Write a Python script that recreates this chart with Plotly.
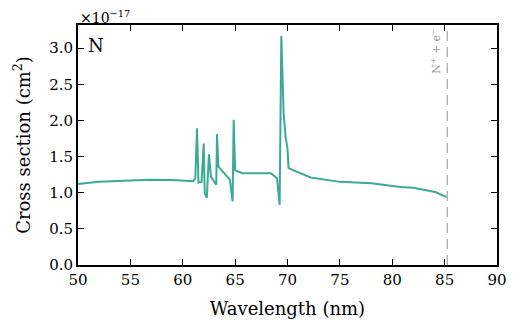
import plotly.graph_objects as go

wavelength = [50.0, 52.0, 55.0, 57.0, 59.0, 60.5, 61.0, 61.2, 61.36, 61.5, 61.8, 62.0, 62.1, 62.3,
              62.5, 62.7, 63.2, 63.27, 63.4, 64.5, 64.76, 64.86, 65.0, 65.7, 68.4, 69.0, 69.25,
              69.41, 69.63, 69.82, 70.0, 70.1, 72.2, 75.0, 78.0, 80.8, 82.0, 84.1, 85.2]
sigma = [1.12, 1.15, 1.17, 1.18, 1.175, 1.16, 1.16, 1.2, 1.89, 1.14, 1.15, 1.68, 0.99, 0.93,
         1.53, 1.22, 1.11, 1.81, 1.36, 1.18, 0.88, 2.01, 1.31, 1.27, 1.27, 1.20, 0.83,
         3.17, 2.1, 1.77, 1.61, 1.34, 1.21, 1.15, 1.13, 1.08, 1.07, 1.01, 0.94]
threshold = 85.25
x_ticks = [50, 55, 60, 65, 70, 75, 80, 85, 90]
y_ticks = [0.0, 0.5, 1.0, 1.5, 2.0, 2.5, 3.0]

FONT = "DejaVu Serif"

fig = go.Figure()
fig.add_trace(go.Scatter(x=wavelength, y=sigma, mode="lines",
                         line=dict(color="#3aaa94", width=2), showlegend=False))
fig.add_trace(go.Scatter(x=[threshold, threshold], y=[0, 3.32], mode="lines",
                         line=dict(color="#aaaaaa", width=1.3, dash="10px,6px"), showlegend=False))

axis_common = dict(showgrid=False, zeroline=False, showline=True, mirror="ticks",
                   linecolor="black", linewidth=2, ticks="inside", ticklen=6,
                   tickwidth=1.2, tickcolor="black", automargin=False,
                   tickfont=dict(family=FONT, size=15, color="black"))

fig.update_layout(
    width=525, height=324,
    margin=dict(l=78, r=28, t=25, b=59),
    paper_bgcolor="white", plot_bgcolor="white",
    xaxis=dict(range=[50, 90], tickvals=x_ticks, ticktext=[str(v) for v in x_ticks],
               title=dict(text="Wavelength (nm)", font=dict(family=FONT, size=18, color="black"),
                          standoff=14),
               **axis_common),
    yaxis=dict(range=[0, 3.32], tickvals=y_ticks, ticktext=[f"{v:.1f}" for v in y_ticks],
               title=dict(text="Cross section (cm<sup>2</sup>)",
                          font=dict(family=FONT, size=18, color="black"), standoff=14),
               **axis_common),
)

fig.add_annotation(x=0, y=1, xref="paper", yref="paper", xanchor="left", yanchor="bottom",
                   text="×10<sup>−17</sup>", showarrow=False, yshift=-3,
                   font=dict(family=FONT, size=14, color="black"))
fig.add_annotation(x=0.02, y=0.965, xref="paper", yref="paper", xanchor="left", yanchor="top",
                   text="N", showarrow=False,
                   font=dict(family=FONT, size=18, color="black"))
fig.add_annotation(x=threshold, y=3.3, xref="x", yref="y", xanchor="right", yanchor="top",
                   text="N<sup>+</sup> + e<sup>−</sup>", showarrow=False, textangle=-90,
                   xshift=-1, font=dict(family=FONT, size=11, color="#999999"))

fig.write_html("out.html")
